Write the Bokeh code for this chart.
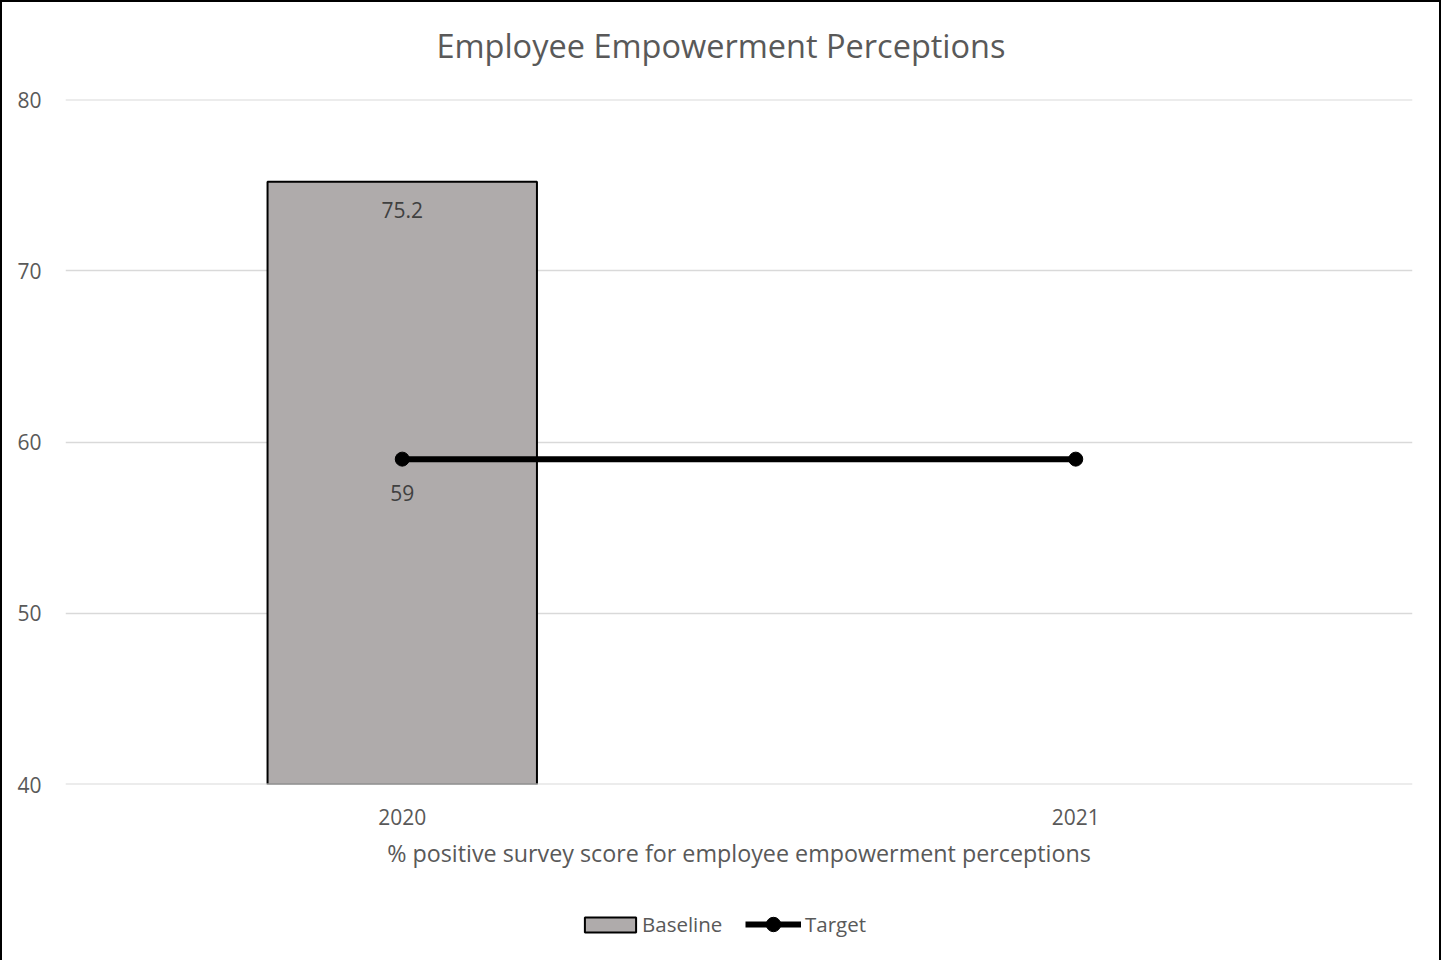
from bokeh.plotting import figure
from bokeh.layouts import column
from bokeh.models import (ColumnDataSource, Legend, LegendItem, Label, FactorRange, Range1d, Span)
from bokeh.core.properties import value
from bokeh.embed import file_html
from bokeh.resources import INLINE

years = ["2020", "2021"]
baseline_years = ["2020"]
baseline_values = [75.2]
target_values = [59, 59]
y_ticks = [40, 50, 60, 70, 80]
title_text = "Employee Empowerment Perceptions"
x_title = "% positive survey score for employee empowerment perceptions"

FONT = "Open Sans"
TXT = "#595959"
GRID = "#D9D9D9"
BAR = "#AFABAB"
W = 1437

# ---- title strip (frame is aligned with the main chart's frame by the column) ----
tf = figure(width=W, height=81, x_range=Range1d(0, 1), y_range=Range1d(0, 81),
            output_backend="svg", toolbar_location=None,
            x_axis_location=None, y_axis_location=None,
            min_border=0, min_border_left=0, min_border_right=0,
            min_border_top=0, min_border_bottom=0)
tf.grid.visible = False
tf.outline_line_color = None
tf.border_fill_color = "white"
tf.add_layout(Label(x=0.4866, y=38, text=title_text, text_align="center", text_baseline="middle",
                    text_font=FONT, text_font_size="32.5px", text_color=TXT))

# ---- main chart ----
xr = FactorRange(*years)
xr.range_padding = 0
yr = Range1d(40, 80)
p = figure(width=W, height=809, x_range=xr, y_range=yr,
           output_backend="svg", toolbar_location=None,
           min_border_left=63, min_border_right=27, min_border_top=16, min_border_bottom=108)
p.outline_line_color = None
p.background_fill_color = "white"
p.border_fill_color = "white"

bsrc = ColumnDataSource(dict(x=baseline_years, top=baseline_values,
                             t=[str(v) for v in baseline_values]))
bar_style = dict(width=0.4, fill_color=BAR, line_color="black", line_width=2)
p.vbar(x="x", top="top", bottom=0, source=bsrc, **bar_style)
p.text(x="x", y="top", text="t", source=bsrc,
       text_align="center", text_baseline="middle", y_offset=28,
       text_font=value(FONT), text_font_size="21px", text_color="#404040")

for yv in (y_ticks[0], y_ticks[-1]):
    p.add_layout(Span(location=yv, dimension="width", line_color=GRID, line_width=2,
                      level="overlay"))

tsrc = ColumnDataSource(dict(x=years, y=target_values))
line_style = dict(line_color="black", line_width=6)
mark_style = dict(size=14, fill_color="black", line_color="black")
p.line(x="x", y="y", source=tsrc, **line_style)
p.scatter(x="x", y="y", source=tsrc, **mark_style)
lsrc = ColumnDataSource(dict(x=years[:1], y=target_values[:1], t=[str(target_values[0])]))
p.text(x="x", y="y", text="t", source=lsrc, text_align="center", text_baseline="middle",
       y_offset=34, text_font=value(FONT), text_font_size="21px", text_color="#404040")

p.xgrid.grid_line_color = None
p.ygrid.grid_line_color = GRID
p.ygrid.grid_line_width = 1.5
p.yaxis.ticker = y_ticks
p.ygrid.ticker = y_ticks

for ax in (p.xaxis, p.yaxis):
    ax.axis_line_color = None
    ax.major_tick_line_color = None
    ax.minor_tick_line_color = None
    ax.major_label_text_font = FONT
    ax.major_label_text_font_size = "21px"
    ax.major_label_text_color = TXT
p.yaxis.major_label_standoff = 18
p.xaxis.major_label_standoff = 18
p.xaxis.axis_label = x_title
p.xaxis.axis_label_text_font = FONT
p.xaxis.axis_label_text_font_size = "23.3px"
p.xaxis.axis_label_text_font_style = "normal"
p.xaxis.axis_label_text_color = TXT
p.xaxis.axis_label_standoff = 9

# ---- legend strip ----
lf = figure(width=W, height=68, x_range=xr, y_range=yr,
            output_backend="svg", toolbar_location=None,
            x_axis_location=None, y_axis_location=None,
            min_border=0, min_border_left=0, min_border_right=0,
            min_border_top=0, min_border_bottom=0)
lf.grid.visible = False
lf.outline_line_color = None
lf.border_fill_color = "white"
lb = lf.vbar(x="x", top="top", bottom=0, source=bsrc, visible=False, **bar_style)
ll = lf.line(x="x", y="y", source=tsrc, visible=False, **line_style)
lc = lf.scatter(x="x", y="y", source=tsrc, visible=False, **mark_style)
leg_common = dict(orientation="horizontal", padding=0, margin=0, border_line_color=None,
                  background_fill_alpha=0, inactive_fill_alpha=0,
                  label_text_font=FONT, label_text_font_size="20.5px", label_text_color=TXT)
leg1 = Legend(items=[LegendItem(label="Baseline", renderers=[lb])],
              location=(513, 22), glyph_width=64, glyph_height=19, label_standoff=0,
              **leg_common)
leg2 = Legend(items=[LegendItem(label="Target", renderers=[ll, lc])],
              location=(680, 18), glyph_width=56, glyph_height=36, label_standoff=4,
              **leg_common)
lf.add_layout(leg1, "center")
lf.add_layout(leg2, "center")

layout = column(tf, p, lf, spacing=0)
layout.styles = {"border-top": "2px solid black", "border-left": "2px solid black",
                 "border-right": "2px solid black"}

open("out.html", "w").write(file_html(layout, INLINE))
